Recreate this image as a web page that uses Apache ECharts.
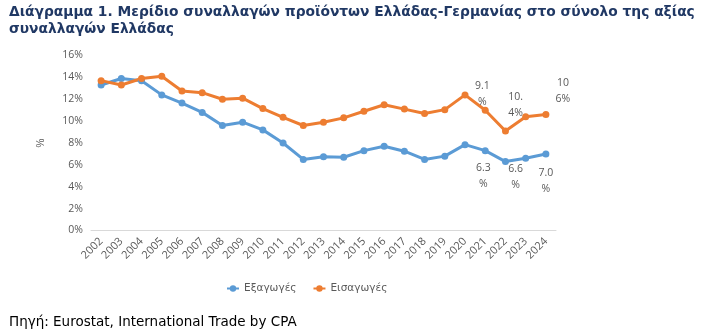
<!DOCTYPE html>
<html><head><meta charset="utf-8">
<script src="https://cdn.jsdelivr.net/npm/echarts@6/dist/echarts.min.js"></script>
<style>html,body{margin:0;padding:0;background:#fff}#c{width:717px;height:332px}</style>
</head><body><div id="c"></div>
<script>
const years = ['2002','2003','2004','2005','2006','2007','2008','2009','2010','2011','2012','2013','2014','2015','2016','2017','2018','2019','2020','2021','2022','2023','2024'];
const exportsShare = [13.3,13.9,13.7,12.4,11.65,10.8,9.6,9.9,9.2,8.0,6.5,6.75,6.7,7.3,7.7,7.25,6.5,6.8,7.85,7.3,6.3,6.6,7.0];
const importsShare = [13.7,13.3,13.9,14.1,12.75,12.6,12.0,12.1,11.15,10.35,9.6,9.9,10.3,10.9,11.5,11.1,10.7,11.05,12.4,11.0,9.1,10.4,10.6];
const yTicks = [0,2,4,6,8,10,12,14,16];
const seriesNames = ['Εξαγωγές','Εισαγωγές'];
const exportLabels = {20:'6.3\n%',21:'6.6\n%',22:'7.0\n%'};
const importLabels = {20:'9.1\n%',21:'10.\n4%',22:'10\n6%'};
const exportOffsets = {20:[-22,14],21:[-10,19],22:[0,27]};
const importOffsets = {20:[-23,-37],21:[-10,-12],22:[17,-24]};

function build(vals, labels, offsets){
  return vals.map((v,i)=>{
    if(labels[i]===undefined) return v;
    return {value:v,label:{show:true,position:'inside',formatter:labels[i],offset:offsets[i],
      color:'#595959',fontSize:10.5,lineHeight:16,fontFamily:'Open Sans',align:'center',verticalAlign:'middle'}};
  });
}
const chart = echarts.init(document.getElementById('c'));
chart.setOption({
  animation:false,
  title:[{text:'Διάγραμμα 1. Μερίδιο συναλλαγών προϊόντων Ελλάδας-Γερμανίας στο σύνολο της αξίας\nσυναλλαγών Ελλάδας',
    left:9,top:4,padding:0,textStyle:{fontFamily:'DejaVu Sans',fontWeight:'bold',fontSize:13.8,color:'#203864',lineHeight:17}},
    {text:'Πηγή: Eurostat, International Trade by CPA',left:9,top:315,padding:0,
    textStyle:{fontFamily:'DejaVu Sans',fontWeight:'normal',fontSize:13.5,color:'#000'}}],
  legend:{data:seriesNames,left:226,top:283,itemWidth:12,itemHeight:8,itemGap:16,padding:0,
    textStyle:{color:'#595959',fontSize:10.5,fontFamily:'DejaVu Sans'}},
  grid:{left:91,right:161,top:55.5,bottom:101.5},
  xAxis:{type:'category',data:years,boundaryGap:true,
    axisLine:{lineStyle:{color:'#d9d9d9'}},axisTick:{show:false},
    axisLabel:{rotate:45,color:'#595959',fontSize:11,fontFamily:'Open Sans',interval:0,margin:9}},
  yAxis:{type:'value',min:0,max:16,interval:2,name:'%',nameLocation:'middle',nameGap:45,
    nameTextStyle:{color:'#595959',fontSize:10},
    axisLine:{show:false},axisTick:{show:false},splitLine:{show:false},
    axisLabel:{formatter:v=>yTicks.includes(v)?v+'%':'',color:'#595959',fontSize:10.5,fontFamily:'Open Sans',margin:8}},
  series:[
    {name:seriesNames[0],type:'line',data:build(exportsShare,exportLabels,exportOffsets),
     color:'#5B9BD5',lineStyle:{width:3},symbol:'circle',symbolSize:7,itemStyle:{color:'#5B9BD5'}},
    {name:seriesNames[1],type:'line',data:build(importsShare,importLabels,importOffsets),
     color:'#ED7D31',lineStyle:{width:3},symbol:'circle',symbolSize:7,itemStyle:{color:'#ED7D31'}}
  ]
});
</script></body></html>
